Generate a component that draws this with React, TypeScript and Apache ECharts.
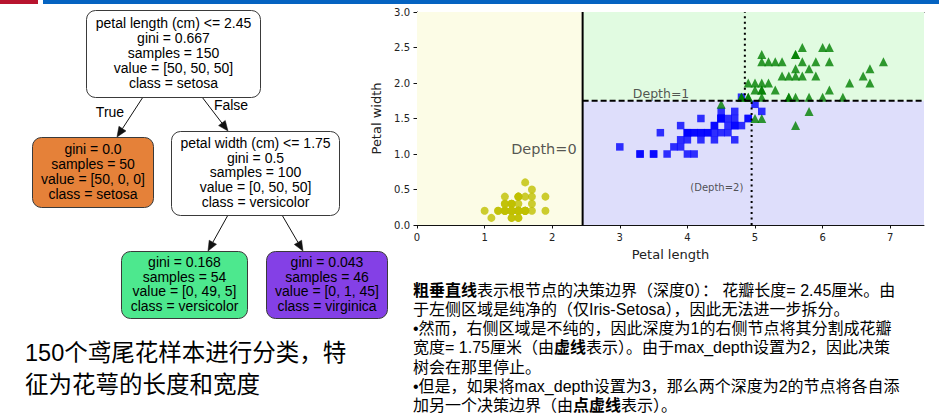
import React, { useEffect, useRef } from 'react';
import * as echarts from 'echarts';

// ---------- data (iris petal length / width) ----------
const setosaPetal: number[][] = [
  [1.4, 0.2], [1.4, 0.2], [1.3, 0.2], [1.5, 0.2], [1.4, 0.2], [1.7, 0.4], [1.4, 0.3], [1.5, 0.2], [1.4, 0.2], [1.5, 0.1],
  [1.5, 0.2], [1.6, 0.2], [1.4, 0.1], [1.1, 0.1], [1.2, 0.2], [1.5, 0.4], [1.3, 0.4], [1.4, 0.3], [1.7, 0.3], [1.5, 0.3],
  [1.7, 0.2], [1.5, 0.4], [1.0, 0.2], [1.7, 0.5], [1.9, 0.2], [1.6, 0.2], [1.6, 0.4], [1.5, 0.2], [1.4, 0.2], [1.6, 0.2],
  [1.6, 0.2], [1.5, 0.4], [1.5, 0.1], [1.4, 0.2], [1.5, 0.2], [1.2, 0.2], [1.3, 0.2], [1.4, 0.1], [1.3, 0.2], [1.5, 0.2],
  [1.3, 0.3], [1.3, 0.3], [1.3, 0.2], [1.6, 0.6], [1.9, 0.4], [1.4, 0.3], [1.6, 0.2], [1.4, 0.2], [1.5, 0.2], [1.4, 0.2],
];
const versicolorPetal: number[][] = [
  [4.7, 1.4], [4.5, 1.5], [4.9, 1.5], [4.0, 1.3], [4.6, 1.5], [4.5, 1.3], [4.7, 1.6], [3.3, 1.0], [4.6, 1.3], [3.9, 1.4],
  [3.5, 1.0], [4.2, 1.5], [4.0, 1.0], [4.7, 1.4], [3.6, 1.3], [4.4, 1.4], [4.5, 1.5], [4.1, 1.0], [4.5, 1.5], [3.9, 1.1],
  [4.8, 1.8], [4.0, 1.3], [4.9, 1.5], [4.7, 1.2], [4.3, 1.3], [4.4, 1.4], [4.8, 1.4], [5.0, 1.7], [4.5, 1.5], [3.5, 1.0],
  [3.8, 1.1], [3.7, 1.0], [3.9, 1.2], [5.1, 1.6], [4.5, 1.5], [4.5, 1.6], [4.7, 1.5], [4.4, 1.3], [4.1, 1.3], [4.0, 1.3],
  [4.4, 1.2], [4.6, 1.4], [4.0, 1.2], [3.3, 1.0], [4.2, 1.3], [4.2, 1.2], [4.2, 1.3], [4.3, 1.3], [3.0, 1.1], [4.1, 1.3],
];
const virginicaPetal: number[][] = [
  [6.0, 2.5], [5.1, 1.9], [5.9, 2.1], [5.6, 1.8], [5.8, 2.2], [6.6, 2.1], [4.5, 1.7], [6.3, 1.8], [5.8, 1.8], [6.1, 2.5],
  [5.1, 2.0], [5.3, 1.9], [5.5, 2.1], [5.0, 2.0], [5.1, 2.4], [5.3, 2.3], [5.5, 1.8], [6.7, 2.2], [6.9, 2.3], [5.0, 1.5],
  [5.7, 2.3], [4.9, 2.0], [6.7, 2.0], [4.9, 1.8], [5.7, 2.1], [6.0, 1.8], [4.8, 1.8], [4.9, 1.8], [5.6, 2.1], [5.8, 1.6],
  [6.1, 1.9], [6.4, 2.0], [5.6, 2.2], [5.1, 1.5], [5.6, 1.4], [6.1, 2.3], [5.6, 2.4], [5.5, 1.8], [4.8, 1.8], [5.4, 2.1],
  [5.6, 2.4], [5.1, 2.3], [5.1, 1.9], [5.9, 2.3], [5.7, 2.5], [5.2, 2.3], [5.0, 1.9], [5.2, 2.0], [5.4, 2.3], [5.1, 1.8],
];

// decision boundaries
const rootSplit = 2.45;
const depth1Split = 1.75;
const depth2SplitLow = 4.95;
const depth2SplitHigh = 4.85;

const xTicks = [0, 1, 2, 3, 4, 5, 6, 7];
const yTicks = [0, 0.5, 1, 1.5, 2, 2.5, 3];
const xRange = [0, 7.5];
const yRange = [0, 3];

const depthLabels = ['Depth=0', 'Depth=1', '(Depth=2)'];
const depthLabelAt: number[][] = [[1.40, 1.0], [3.2, 1.80], [4.05, 0.5]];

// tree content
const treeNodeLines: string[][] = [
  ['petal length (cm) <= 2.45', 'gini = 0.667', 'samples = 150', 'value = [50, 50, 50]', 'class = setosa'],
  ['gini = 0.0', 'samples = 50', 'value = [50, 0, 0]', 'class = setosa'],
  ['petal width (cm) <= 1.75', 'gini = 0.5', 'samples = 100', 'value = [0, 50, 50]', 'class = versicolor'],
  ['gini = 0.168', 'samples = 54', 'value = [0, 49, 5]', 'class = versicolor'],
  ['gini = 0.043', 'samples = 46', 'value = [0, 1, 45]', 'class = virginica'],
];
const treeEdgeLabels = ['True', 'False'];

const leftCaption = ['150个鸢尾花样本进行分类，特', '征为花萼的长度和宽度'];
const rightCaption = [
  '{b|粗垂直线}表示根节点的决策边界（深度0）： 花瓣长度= 2.45厘米。由',
  '于左侧区域是纯净的（仅Iris-Setosa），因此无法进一步拆分。',
  '•然而，右侧区域是不纯的，因此深度为1的右侧节点将其分割成花瓣',
  '宽度= 1.75厘米（由{b|虚线}表示）。由于max_depth设置为2，因此决策',
  '树会在那里停止。',
  '•但是，如果将max_depth设置为3，那么两个深度为2的节点将各自添',
  '加另一个决策边界（由{b|点虚线}表示）。',
];

// ---------- layout / style ----------
const W = 939;
const H = 419;
const nodeBoxes = [
  { x: 86, y: 10, w: 174, h: 87, fill: '#ffffff' },
  { x: 32, y: 137, w: 121, h: 70, fill: '#e58139' },
  { x: 171, y: 131, w: 168, h: 84, fill: '#ffffff' },
  { x: 121, y: 251, w: 126, h: 67, fill: '#4de88e' },
  { x: 266, y: 251, w: 121, h: 67, fill: '#8440e6' },
];
const edgeGeom = [
  { x1: 143, y1: 97, x2: 117, y2: 137 },
  { x1: 202, y1: 97, x2: 228, y2: 131 },
  { x1: 228, y1: 215, x2: 208, y2: 251 },
  { x1: 282, y1: 215, x2: 303, y2: 251 },
];
const edgeLabelPos = [[110, 112], [231, 105]];
const treeFont = '"Liberation Sans", Arial, sans-serif';
const cjkFont = '"Liberation Sans", "Noto Sans CJK SC", sans-serif';
const plotFont = '"DejaVu Sans", sans-serif';

function buildGraphic(): any[] {
  const els: any[] = [];
  // top slide bars
  els.push({ type: 'rect', shape: { x: 0, y: 0, width: 38, height: 4 }, style: { fill: '#b8142e' }, z: 100 });
  els.push({ type: 'rect', shape: { x: 43, y: 0, width: W - 43, height: 4 }, style: { fill: '#0563c1' }, z: 100 });

  // tree edges with arrow heads
  edgeGeom.forEach((e) => {
    const dx = e.x2 - e.x1;
    const dy = e.y2 - e.y1;
    const len = Math.sqrt(dx * dx + dy * dy);
    const ux = dx / len;
    const uy = dy / len;
    const al = 10;
    const aw = 4.2;
    const bx = e.x2 - ux * al;
    const by = e.y2 - uy * al;
    els.push({ type: 'line', shape: { x1: e.x1, y1: e.y1, x2: bx, y2: by }, style: { stroke: '#111', lineWidth: 1 } });
    els.push({
      type: 'polygon',
      shape: { points: [[e.x2, e.y2], [bx - uy * aw, by + ux * aw], [bx + uy * aw, by - ux * aw]] },
      style: { fill: '#111', stroke: '#111', lineWidth: 0.5 },
    });
  });
  treeEdgeLabels.forEach((t, i) => {
    els.push({
      type: 'text', x: edgeLabelPos[i][0], y: edgeLabelPos[i][1],
      style: { text: t, fontSize: 14, fontFamily: treeFont, fill: '#000', align: 'center', verticalAlign: 'middle' },
    });
  });

  // tree nodes
  treeNodeLines.forEach((lines, i) => {
    const b = nodeBoxes[i];
    els.push({
      type: 'rect', shape: { x: b.x + 0.5, y: b.y + 0.5, width: b.w, height: b.h, r: 9 },
      style: { fill: b.fill, stroke: '#3a3a3a', lineWidth: 1 },
    });
    const mid = b.y + b.h / 2 - 0.6;
    const lh = 14.8;
    lines.forEach((ln, j) => {
      els.push({
        type: 'text', x: b.x + b.w / 2 + 0.5, y: mid + (j - (lines.length - 1) / 2) * lh,
        style: { text: ln, fontSize: 14, fontFamily: treeFont, fill: '#000', align: 'center', verticalAlign: 'middle' },
      });
    });
  });

  // left caption
  leftCaption.forEach((ln, i) => {
    els.push({
      type: 'text', x: 25, y: 353 + i * 32,
      style: { text: ln, fontSize: 23.5, fontFamily: cjkFont, fill: '#000', align: 'left', verticalAlign: 'middle' },
    });
  });

  // right caption
  rightCaption.forEach((ln, i) => {
    els.push({
      type: 'text', x: 413, y: 290 + i * 19.3,
      style: {
        text: ln, fontSize: 16, fontFamily: cjkFont, fill: '#000', align: 'left', verticalAlign: 'middle',
        rich: { b: { fontWeight: 'bold', fontSize: 16, fontFamily: cjkFont, fill: '#000' } },
      },
    });
  });
  return els;
}

function buildOption(): any {
  const axisLabelStyle = { color: '#222', fontSize: 10, fontFamily: plotFont };
  return {
    animation: false,
    backgroundColor: '#ffffff',
    grid: { left: 417, top: 12, right: 15, bottom: 194, containLabel: false },
    xAxis: [
      {
        type: 'value', min: xRange[0], max: xRange[1], interval: 1,
        axisLine: { show: true, onZero: false, lineStyle: { color: '#111', width: 1 } },
        axisTick: { show: true, length: 3.5, customValues: xTicks, lineStyle: { color: '#111' } },
        axisLabel: { ...axisLabelStyle, margin: 7, customValues: xTicks, formatter: (v: number) => String(v) },
        splitLine: { show: false },
        name: 'Petal length', nameLocation: 'middle', nameGap: 23,
        nameTextStyle: { fontSize: 13, fontFamily: plotFont, color: '#222' },
      },
      {
        type: 'value', position: 'top', min: xRange[0], max: xRange[1],
        axisLine: { show: true, onZero: false, lineStyle: { color: '#111', width: 1 } },
        axisTick: { show: false }, axisLabel: { show: false }, splitLine: { show: false },
      },
    ],
    yAxis: {
      type: 'value', min: yRange[0], max: yRange[1], interval: 0.5,
      axisLine: { show: true, onZero: false, lineStyle: { color: '#111', width: 1 } },
      axisTick: { show: true, length: 3.5, customValues: yTicks, lineStyle: { color: '#111' } },
      axisLabel: { ...axisLabelStyle, margin: 7, customValues: yTicks, formatter: (v: number) => v.toFixed(1) },
      splitLine: { show: false },
      name: 'Petal width', nameLocation: 'middle', nameGap: 29, nameRotate: 90,
      nameTextStyle: { fontSize: 13, fontFamily: plotFont, color: '#222' },
    },
    graphic: buildGraphic(),
    series: [
      {
        type: 'line', z: 1, data: [[xRange[0], yRange[0]]], showSymbol: false, symbol: 'none',
        lineStyle: { opacity: 0 }, silent: true,
        markArea: {
          silent: true,
          data: [
            [{ coord: [xRange[0], yRange[0]], itemStyle: { color: '#fcfce6' } }, { coord: [rootSplit, yRange[1]] }],
            [{ coord: [rootSplit, depth1Split], itemStyle: { color: '#e1fbe1' } }, { coord: [xRange[1], yRange[1]] }],
            [{ coord: [rootSplit, yRange[0]], itemStyle: { color: '#dedefb' } }, { coord: [xRange[1], depth1Split] }],
          ],
        },
      },
      { type: 'scatter', z: 3, symbol: 'circle', symbolSize: 8, itemStyle: { color: '#bfbf00' }, data: setosaPetal },
      { type: 'scatter', z: 3, symbol: 'rect', symbolSize: 7.5, itemStyle: { color: '#0000ff' }, data: versicolorPetal },
      { type: 'scatter', z: 3, symbol: 'triangle', symbolSize: 9, itemStyle: { color: '#008000' }, data: virginicaPetal },
      {
        type: 'line', z: 4, symbol: 'none', data: [[rootSplit, yRange[0]], [rootSplit, yRange[1]]],
        lineStyle: { color: '#000', width: 2 },
      },
      {
        type: 'line', z: 4, symbol: 'none', data: [[rootSplit, depth1Split], [xRange[1], depth1Split]],
        lineStyle: { color: '#000', width: 2, type: [6, 3] },
      },
      {
        type: 'line', z: 4, symbol: 'none', data: [[depth2SplitLow, yRange[0]], [depth2SplitLow, depth1Split]],
        lineStyle: { color: '#000', width: 2, type: [2, 3.5] },
      },
      {
        type: 'line', z: 4, symbol: 'none', data: [[depth2SplitHigh, depth1Split], [depth2SplitHigh, yRange[1]]],
        lineStyle: { color: '#000', width: 2, type: [2, 3.5] },
      },
      {
        type: 'scatter', z: 5, symbolSize: 1, itemStyle: { color: 'rgba(0,0,0,0)' },
        data: depthLabelAt.map((p, i) => ({
          value: p,
          label: {
            show: true, formatter: depthLabels[i], position: [0, 0], align: 'left', verticalAlign: 'bottom',
            offset: [0, 3], color: '#2a2a2a', fontFamily: plotFont, fontSize: [14.5, 12.5, 10][i],
          },
        })),
      },
    ],
  };
}

export default function App() {
  const ref = useRef<HTMLDivElement>(null);
  useEffect(() => {
    if (!ref.current) return;
    const chart = echarts.init(ref.current, null, { renderer: 'svg', width: W, height: H });
    chart.setOption(buildOption());
    return () => chart.dispose();
  }, []);
  return (
    <div
      ref={ref}
      style={{ position: 'fixed', left: 0, top: 0, width: W, height: H, background: '#ffffff' }}
    />
  );
}
